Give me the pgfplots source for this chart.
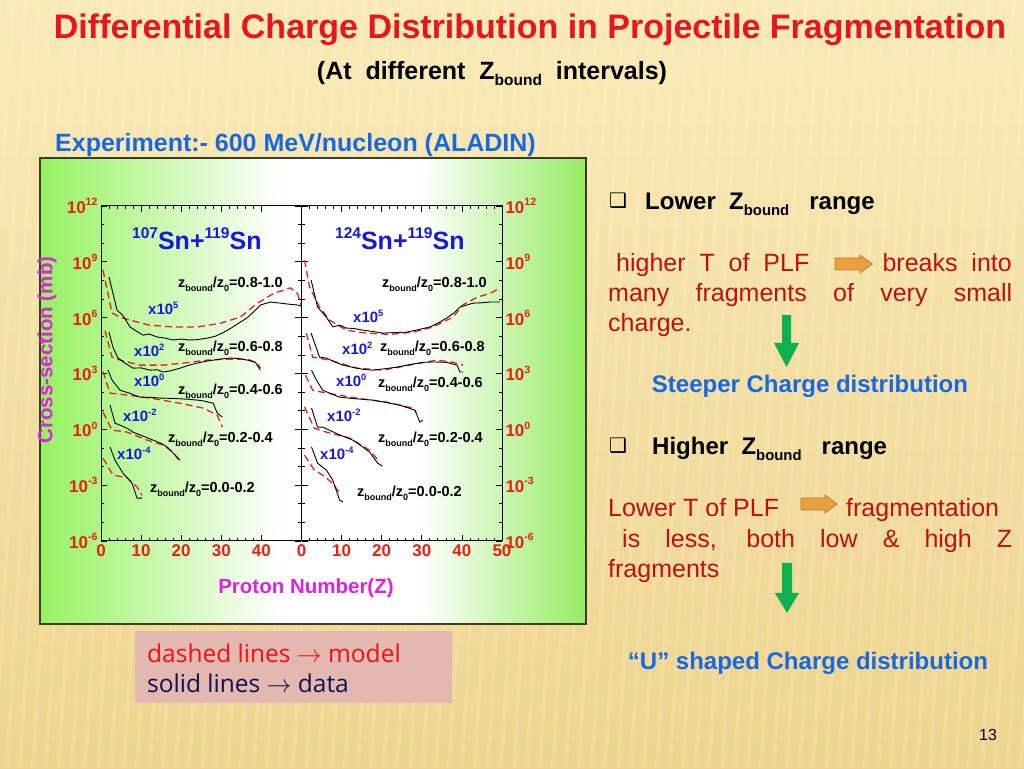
\documentclass[border=0pt]{standalone}
\usepackage{fontspec}
\setmainfont{Liberation Sans}
\newfontfamily\dejavu{DejaVu Sans}
\newfontfamily\comic{Open Sans}
\usepackage{pgfplots}
\pgfplotsset{compat=1.18}

\definecolor{bgtop}{RGB}{249,234,182}
\definecolor{bgbot}{RGB}{238,212,142}
\definecolor{gL}{RGB}{150,242,96}
\definecolor{gR}{RGB}{150,236,100}
\definecolor{boxedge}{RGB}{60,60,40}
\definecolor{tickred}{RGB}{235,30,20}
\definecolor{modred}{RGB}{232,32,26}
\definecolor{titred}{RGB}{232,20,30}
\definecolor{labmag}{RGB}{222,34,222}
\definecolor{snblue}{RGB}{24,24,220}
\definecolor{txtblue}{RGB}{24,104,228}
\definecolor{txtred}{RGB}{190,16,16}
\definecolor{arrorange}{RGB}{232,160,64}
\definecolor{arredge}{RGB}{190,122,40}
\definecolor{arrgreen}{RGB}{16,176,80}
\definecolor{legbox}{RGB}{226,184,176}
\definecolor{legred}{RGB}{240,16,16}
\definecolor{legnavy}{RGB}{16,16,80}

\newdimen\supdim
\makeatletter
\newcommand\Sup[1]{\supdim=\f@size pt\supdim=0.62\supdim\raisebox{0.45em}{\fontsize{\strip@pt\supdim}{0}\selectfont #1}}
\newcommand\Sub[1]{\supdim=\f@size pt\supdim=0.62\supdim\raisebox{-0.22em}{\fontsize{\strip@pt\supdim}{0}\selectfont #1}}
\makeatother
\newcommand\zl[1]{z\Sub{bound}/z\Sub{0}=#1}
\newcommand\fs[1]{\fontsize{#1}{#1}\selectfont}

\pgfplotsset{
  panel/.style={
    scale only axis, width=200.5pt, height=335pt, anchor=south west,
    xmin=0, xmax=50, ymin=-6, ymax=12,
    minor x tick num=4, minor y tick num=2,
    ytick={-6,-3,0,3,6,9,12},
    yticklabels={10\Sup{-6},10\Sup{-3},10\Sup{0},10\Sup{3},10\Sup{6},10\Sup{9},10\Sup{12}},
    tick align=inside,
    major tick length=6pt, minor tick length=3pt,
    every tick/.append style={black, line width=0.7pt},
    axis line style={line width=1pt},
    ticklabel style={font=\fs{17}\bfseries, text=tickred},
  },
  dat/.style={black, line width=0.9pt},
  mod/.style={modred, line width=1.3pt, dash pattern=on 7pt off 4pt},
}

\begin{document}
\begin{tikzpicture}
\begin{scope}[x=1pt,y=1pt]
\useasboundingbox (0,0) rectangle (1024,768);
\shade[top color=bgtop, bottom color=bgbot] (0,0) rectangle (1024,768);
\foreach \i in {0,13,...,1090}
  \draw[white, opacity=0.13, line width=4pt] (\i,768) -- (\i-45,0);
% green frame behind the two panels
\shade[left color=gL, right color=white] (40,144) rectangle (281,610);
\fill[white] (280,144) rectangle (421,610);
\shade[left color=white, right color=gR] (420,144) rectangle (586,610);
\draw[line width=1.5pt, boxedge] (40,144) rectangle (586,610);
\end{scope}

% left panel: 107Sn + 119Sn
\begin{axis}[panel, at={(101pt,227pt)},
  xtick={0,10,20,30,40}, xticklabels={0,10,20,30,40}]
\addplot[mod] coordinates {(0.5,8.56)(2.75,6.25)(4.75,6.03)(7.25,5.87)(12,5.6)(18,5.5)(24,5.5)(29.75,5.7)(34.75,6.03)(39,6.78)(43,7.3)(47.25,7.6)(49,7.3)(50.5,6.3)};
\addplot[dat] coordinates {(2,8.18)(4,6.41)(5.5,6.1)(7.25,5.5)(9,5.25)(10.5,5.06)(12,5.12)(14,4.96)(16,4.9)(18,4.8)(20,4.85)(22,4.8)(24,4.82)(26.5,4.9)(28.5,5.0)(30.5,5.2)(32.5,5.45)(34.75,5.76)(36.5,6.0)(38,6.3)(39.75,6.68)(42.25,6.84)(44.75,6.78)(47,6.72)(49,6.68)(50.5,6.6)};
\addplot[mod] coordinates {(1,5.3)(2.75,3.88)(4.75,3.72)(9.75,3.45)(15.5,3.45)(20.5,3.56)(26.5,3.72)(31.5,3.77)(36.5,3.77)(39,3.56)(39.75,3.3)};
\addplot[dat] coordinates {(2,5.22)(3,4.4)(4.25,3.83)(6,3.55)(8,3.29)(10,3.3)(12.25,3.18)(14,3.2)(15.5,3.08)(17.5,3.15)(19.75,3.29)(22,3.45)(24,3.56)(26,3.65)(28,3.72)(30,3.78)(32.25,3.83)(34.5,3.8)(36.5,3.72)(38.5,3.6)(39.75,3.18)};
\addplot[mod] coordinates {(0.5,3.1)(2.25,1.95)(6.5,1.84)(12.25,1.68)(19.75,1.4)(25.5,1.14)(29,0.76)(30.25,0.12)};
\addplot[dat] coordinates {(1.75,3.18)(2.75,2.65)(4.75,2.1)(7,1.95)(9.75,1.73)(12,1.72)(14.75,1.68)(18,1.66)(21.5,1.62)(25,1.55)(28,1.4)(29,0.87)(30.25,0.66)};
\addplot[mod] coordinates {(0.5,0.92)(2.75,-0.04)(6.5,-0.15)(11.5,-0.58)(15.5,-0.85)(18,-1.23)(19.75,-1.76)};
\addplot[dat] coordinates {(2.25,1.3)(3.5,0.33)(5,0.2)(6.5,0.06)(8,-0.15)(9.75,-0.3)(11.5,-0.45)(13,-0.58)(15,-0.75)(16.5,-0.95)(18.5,-1.39)(19.75,-1.66)};
\addplot[mod] coordinates {(0.5,-1.55)(3,-2.46)(6.5,-2.6)(9,-3.1)(10.25,-3.54)};
\addplot[dat] coordinates {(2.25,-0.95)(3.5,-1.66)(5.5,-2.36)(7.75,-2.9)(9,-3.7)(10.25,-3.7)};
\end{axis}

% right panel: 124Sn + 119Sn
\begin{axis}[panel, at={(301.5pt,227pt)}, yticklabel pos=right,
  xtick={0,10,20,30,40,50}, xticklabels={0,10,20,30,40,50}]
\addplot[mod] coordinates {(0.75,9.1)(2,7.65)(4.5,6.57)(7,5.87)(11.2,5.33)(16.2,5.17)(22,5.1)(27.8,5.22)(32.8,5.5)(37.8,6.03)(40.2,6.68)(43.8,7.1)(47,7.3)(49.5,7.6)};
\addplot[dat] coordinates {(2.4,8.02)(4,6.57)(6.2,6.03)(7.8,5.5)(9.5,5.6)(11.2,5.44)(13,5.42)(15.3,5.33)(18,5.25)(20.3,5.17)(23,5.2)(26.2,5.22)(29,5.35)(32,5.5)(34,5.7)(36.2,5.98)(38,6.25)(39.5,6.57)(42.8,6.78)(45,6.8)(47,6.84)(49.5,6.84)};
\addplot[mod] coordinates {(1.2,5.17)(2.8,3.88)(7,3.72)(13.7,3.29)(20.3,3.18)(27,3.45)(33.7,3.72)(37.8,3.6)(40.3,3.45)};
\addplot[dat] coordinates {(2.4,5.17)(4.5,3.88)(6.2,3.83)(8,3.65)(10.3,3.45)(13,3.32)(15.5,3.22)(17.8,3.18)(20.5,3.25)(23.8,3.34)(27,3.48)(30.3,3.6)(33,3.62)(36.2,3.6)(38.8,3.45)(39.5,3.08)(40.3,3.08)};
\addplot[mod] coordinates {(1,2.9)(2.8,2.1)(6.2,1.95)(13.7,1.68)(21.2,1.46)(27.8,1.14)(28.6,0.92)};
\addplot[dat] coordinates {(2.5,3.18)(3.7,2.65)(5.3,2.1)(7.5,1.9)(9.5,1.73)(13,1.65)(17.8,1.57)(21,1.45)(24.5,1.3)(28.3,1.03)(29.5,0.39)(30.3,0.5)};
\addplot[mod] coordinates {(0.75,1.2)(3.2,0.06)(6.2,-0.15)(12,-0.47)(17,-1.12)(19.5,-1.76)};
\addplot[dat] coordinates {(2.5,1.14)(4,0.12)(5.3,0.12)(7.5,-0.1)(9.5,-0.3)(11,-0.42)(12.8,-0.58)(15,-0.9)(17,-1.23)(19,-1.82)(20.2,-1.98)};
\addplot[mod] coordinates {(0.75,-1.39)(3.2,-2.19)(5.3,-2.46)(7.8,-2.9)(9.5,-3.43)};
\addplot[dat] coordinates {(2.5,-0.95)(4,-1.82)(6.2,-2.19)(7.8,-2.73)(9.5,-3.8)(10.3,-3.9)};
\end{axis}

\begin{scope}[x=1pt,y=1pt]
% panel annotations
\begin{scope}[every node/.style={inner sep=0pt, anchor=base west}]
\node[text=snblue, font=\fs{25}\bfseries] at (132,518) {\Sup{107}Sn+\Sup{119}Sn};
\node[text=snblue, font=\fs{25}\bfseries] at (335,518) {\Sup{124}Sn+\Sup{119}Sn};
\begin{scope}[font=\fs{14.5}\bfseries]
\node at (178,480) {\zl{0.8-1.0}};
\node at (178,416) {\zl{0.6-0.8}};
\node at (178,373) {\zl{0.4-0.6}};
\node at (168,325) {\zl{0.2-0.4}};
\node at (150,275) {\zl{0.0-0.2}};
\node at (382,480) {\zl{0.8-1.0}};
\node at (380,416) {\zl{0.6-0.8}};
\node at (378,380) {\zl{0.4-0.6}};
\node at (378,325) {\zl{0.2-0.4}};
\node at (357,271) {\zl{0.0-0.2}};
\end{scope}
\begin{scope}[font=\fs{15}\bfseries, text=snblue]
\node at (148,453) {x10\Sup{5}};
\node at (134,411) {x10\Sup{2}};
\node at (134,381) {x10\Sup{0}};
\node at (123,346) {x10\Sup{-2}};
\node at (117,308) {x10\Sup{-4}};
\node at (353,445) {x10\Sup{5}};
\node at (342,413) {x10\Sup{2}};
\node at (336,381) {x10\Sup{0}};
\node at (327,346) {x10\Sup{-2}};
\node at (320,308) {x10\Sup{-4}};
\end{scope}
\end{scope}
\node[rotate=90, text=labmag, font=\fs{20.5}\bfseries] at (47,418) {Cross-section (mb)};
\node[text=labmag, font=\fs{20.5}\bfseries] at (306,180) {Proton Number(Z)};

% headings
\begin{scope}[every node/.style={inner sep=0pt, anchor=base}]
\node[text=titred, font=\fs{34}\bfseries] at (530,729) {Differential Charge Distribution in Projectile Fragmentation};
\node[font=\fs{25}\bfseries] at (492,688) {(At\ \ different\ \ Z\Sub{bound}\ \ intervals)};
\node[anchor=base west, text=txtblue, font=\fs{25}\bfseries] at (55,616) {Experiment:- 600 MeV/nucleon (ALADIN)};
\end{scope}

% right column
\begin{scope}[every node/.style={inner sep=0pt, anchor=base west}]
\node[font=\fs{20}\dejavu] at (609,560) {❑};
\node[font=\fs{24}\bfseries] at (645,558) {Lower\ \ Z\Sub{bound}\ \ \ range};
\node[font=\fs{25}, text=txtred] at (616,496) {higher\ \ T\ \ of\ \ PLF};
\node[font=\fs{25}, text=txtred, anchor=base east] at (1012,496) {breaks\ \ into};
\node[font=\fs{25}, text=txtred] at (608,466) {\makebox[404pt][s]{many fragments of very small}};
\node[font=\fs{25}, text=txtred] at (608,436) {charge.};
\node[font=\fs{24}\bfseries, text=txtblue, anchor=base] at (810,375) {Steeper Charge distribution};
\node[font=\fs{20}\dejavu] at (609,315) {❑};
\node[font=\fs{24}\bfseries] at (652,313) {Higher\ \ Z\Sub{bound}\ \ \ range};
\node[font=\fs{25}, text=txtred] at (608,251) {Lower T of PLF};
\node[font=\fs{25}, text=txtred] at (846,251) {fragmentation};
\node[font=\fs{25}, text=txtred] at (622,220) {\makebox[390pt][s]{is less, both low \& high Z}};
\node[font=\fs{25}, text=txtred] at (608,190) {fragments};
\node[font=\fs{24}\bfseries, text=txtblue, anchor=base] at (808,99) {“U” shaped Charge distribution};
\end{scope}

% arrows
\filldraw[fill=arrorange, draw=arredge, line width=0.8pt]
  (835,498) -- (860,498) -- (860,495) -- (872,504) -- (860,513) -- (860,510) -- (835,510) -- cycle;
\filldraw[fill=arrorange, draw=arredge, line width=0.8pt]
  (801,258) -- (825,258) -- (825,255) -- (837,264) -- (825,273) -- (825,270) -- (801,270) -- cycle;
\fill[arrgreen] (782,453) -- (791,453) -- (791,425) -- (799,425) -- (786.5,401) -- (774,425) -- (782,425) -- cycle;
\fill[arrgreen] (782,205) -- (792,205) -- (792,175) -- (799,175) -- (787,155) -- (775,175) -- (782,175) -- cycle;

% line legend box
\fill[legbox] (135,65) rectangle (452,137);
\node[anchor=base west, inner sep=0pt, text=legred, font=\fs{24.5}\comic] at (147,106) {dashed lines $\rightarrow$ model};
\node[anchor=base west, inner sep=0pt, text=legnavy, font=\fs{24.5}\comic] at (147,76) {solid lines $\rightarrow$ data};

\node[anchor=base, inner sep=0pt, font=\fs{16}] at (988,28) {13};
\end{scope}
\end{tikzpicture}
\end{document}
